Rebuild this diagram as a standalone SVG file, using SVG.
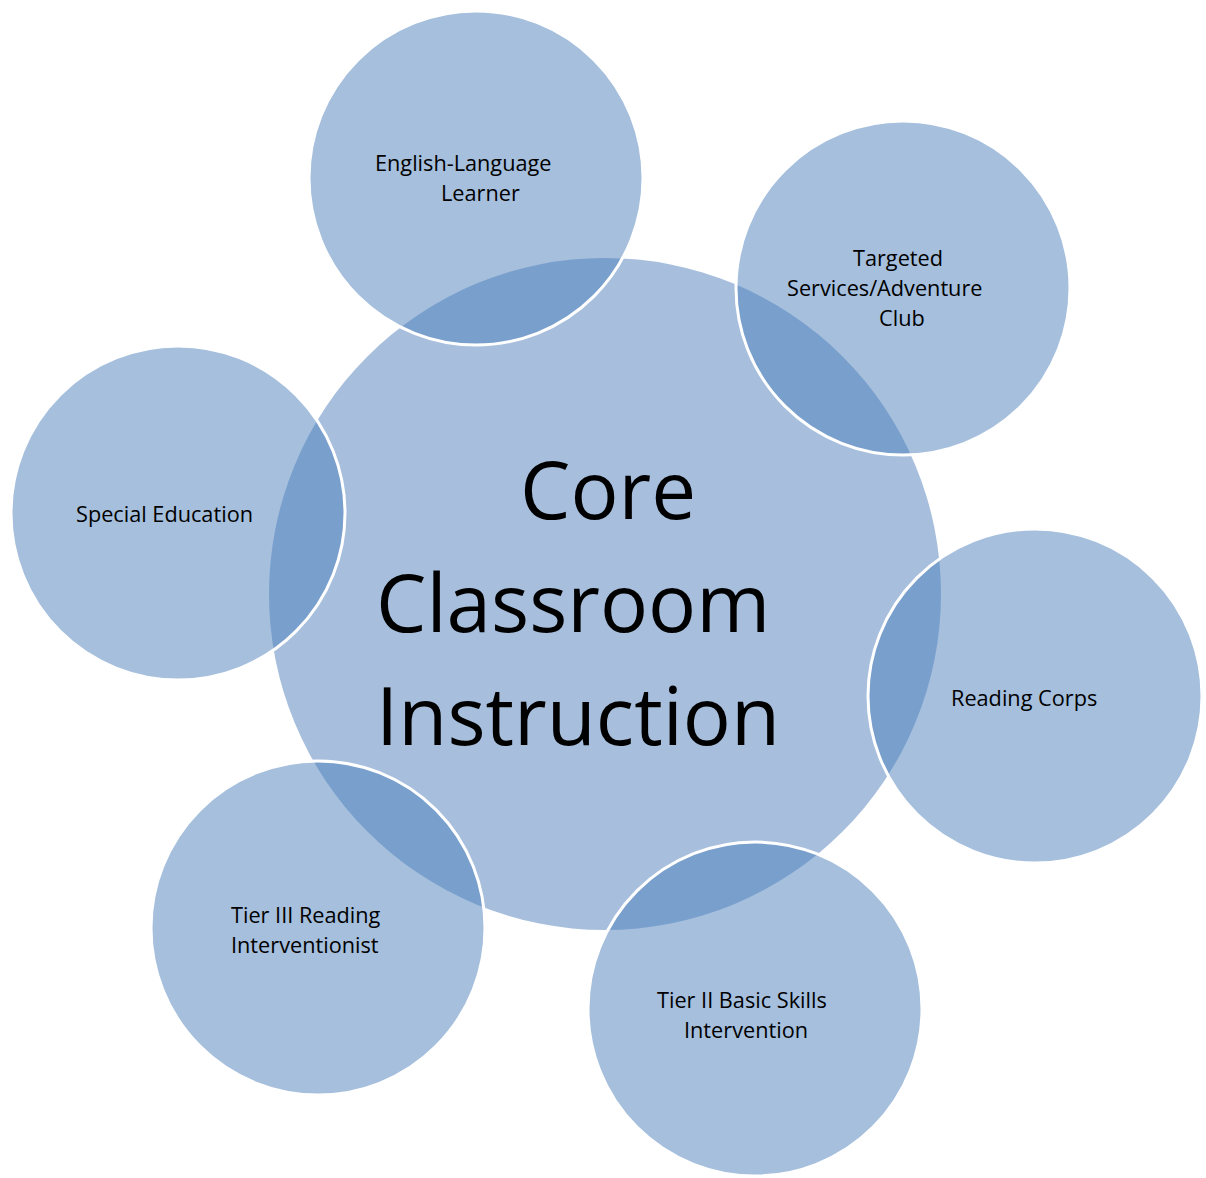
<svg xmlns="http://www.w3.org/2000/svg" width="1206" height="1178" viewBox="0 0 1206 1178">
<style>
.core{fill:#a7bfdd}
.sat{fill:#4b7fbb;fill-opacity:0.5;stroke:#ffffff;stroke-width:3}
.lbl{font-family:"Open Sans","Noto Sans",sans-serif;font-size:21.7px;fill:#000}
.big{font-family:"Open Sans","Noto Sans",sans-serif;font-size:80px;fill:#000}
</style>
<rect width="1206" height="1178" fill="#ffffff"/>
<g id="core">
<circle class="core" cx="605" cy="594" r="336"/>
<text class="big" x="520" y="519">Core</text>
<text class="big" x="376" y="632">Classroom</text>
<text class="big" x="376" y="745">Instruction</text>
</g>
<g id="ell">
<circle class="sat" cx="476" cy="178" r="167"/>
<text class="lbl" x="375" y="171">English-Language</text>
<text class="lbl" x="441" y="201">Learner</text>
</g>
<g id="targeted">
<circle class="sat" cx="903" cy="288" r="167"/>
<text class="lbl" x="853" y="266">Targeted</text>
<text class="lbl" x="787" y="296">Services/Adventure</text>
<text class="lbl" x="879" y="326">Club</text>
</g>
<g id="special">
<circle class="sat" cx="178" cy="513" r="167"/>
<text class="lbl" x="76" y="522">Special Education</text>
</g>
<g id="reading">
<circle class="sat" cx="1035" cy="696" r="167"/>
<text class="lbl" x="951" y="706">Reading Corps</text>
</g>
<g id="tier2">
<circle class="sat" cx="755" cy="1009" r="167"/>
<text class="lbl" x="657" y="1008">Tier II Basic Skills</text>
<text class="lbl" x="684" y="1038">Intervention</text>
</g>
<g id="tier3">
<circle class="sat" cx="318" cy="928" r="167"/>
<text class="lbl" x="231" y="923">Tier III Reading</text>
<text class="lbl" x="231" y="953">Interventionist</text>
</g>
<g id="connectors"></g>
</svg>
